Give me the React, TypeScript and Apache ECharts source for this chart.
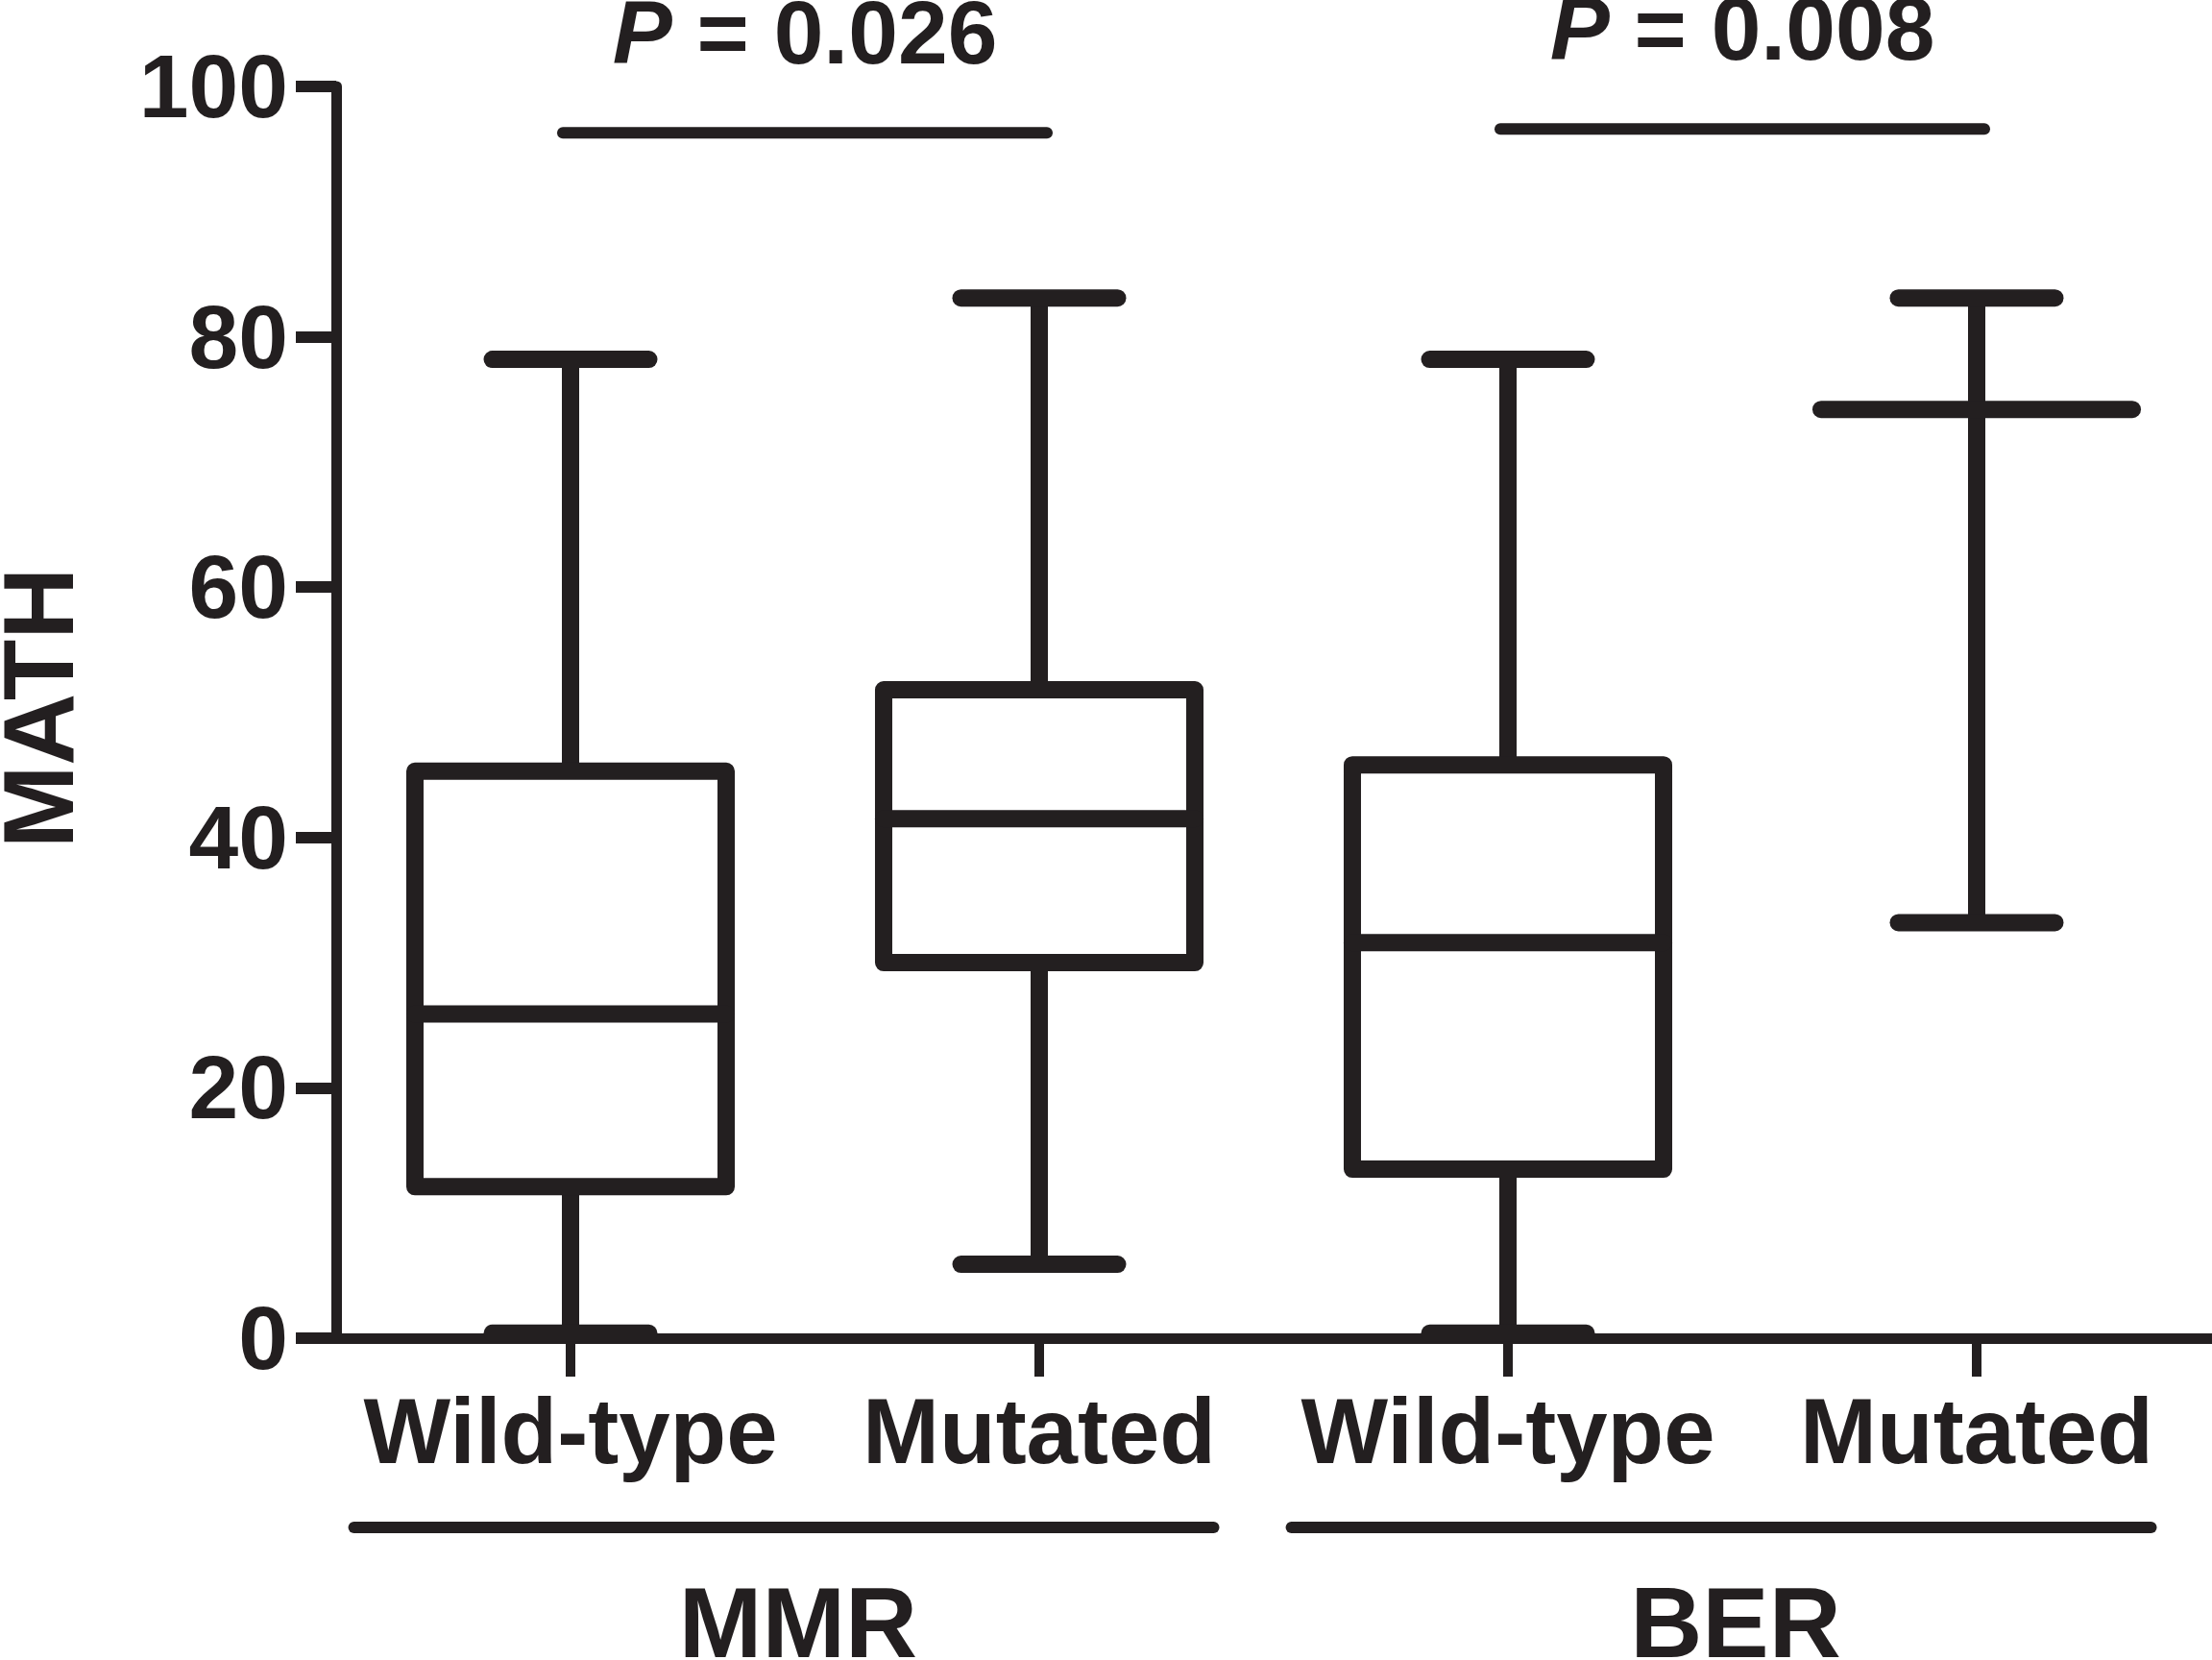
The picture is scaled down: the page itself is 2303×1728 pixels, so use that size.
import React, { useEffect, useRef } from "react";
import * as echarts from "echarts";

// ---------- data ----------
const categories = ["Wild-type", "Mutated", "Wild-type", "Mutated"];
const whiskerMin = [0.4, 5.9, 0.4, 33.2];
const q1 = [12.1, 30.0, 13.5, 74.2];
const median = [25.9, 41.5, 31.6, 74.2];
const q3 = [45.3, 51.8, 45.8, 74.2];
const whiskerMax = [78.2, 83.1, 78.2, 83.1];

const groupNames = ["MMR", "BER"];
const groupFirst = [0, 2];
const groupLast = [1, 3];
const pValues = ["0.026", "0.008"];
const sigHeights = [96.3, 96.6];

const yMin = 0;
const yMax = 100;
const yInterval = 20;
const yTitle = "MATH";

// ---------- style ----------
const INK = "#231f20";
const FONT = "'Liberation Sans', Arial, Helvetica, sans-serif";

export default function App() {
  const ref = useRef<HTMLDivElement>(null);

  useEffect(() => {
    if (!ref.current) return;
    const chart = echarts.init(ref.current, undefined, { renderer: "svg" });

    const boxData = categories.map((_, i) => [
      i,
      whiskerMin[i],
      q1[i],
      median[i],
      q3[i],
      whiskerMax[i],
    ]);
    const annData = groupNames.map((_, g) => [groupFirst[g], groupLast[g], sigHeights[g]]);

    const option: any = {
      animation: false,
      backgroundColor: "#ffffff",
      grid: { left: 350, right: 1, top: 90, bottom: 335, containLabel: false },
      xAxis: {
        type: "category",
        data: categories,
        boundaryGap: true,
        axisLine: { show: true, lineStyle: { color: INK, width: 11 } },
        axisTick: { show: true, alignWithLabel: true, length: 40, lineStyle: { color: INK, width: 10 } },
        axisLabel: {
          interval: 0,
          color: INK,
          fontSize: 96,
          fontWeight: "bold",
          fontFamily: FONT,
          margin: 48,
        },
        splitLine: { show: false },
      },
      yAxis: {
        type: "value",
        min: yMin,
        max: yMax,
        interval: yInterval,
        axisLine: { show: true, lineStyle: { color: INK, width: 11 } },
        axisTick: { show: true, length: 42, lineStyle: { color: INK, width: 12 } },
        axisLabel: {
          color: INK,
          fontSize: 93,
          fontWeight: "bold",
          fontFamily: FONT,
          margin: 50,
        },
        splitLine: { show: false },
      },
      graphic: [
        {
          type: "text",
          x: 40,
          y: 737,
          rotation: Math.PI / 2,
          style: {
            text: yTitle,
            fill: INK,
            fontSize: 104,
            fontWeight: "bold",
            fontFamily: FONT,
            align: "center",
            verticalAlign: "middle",
          },
        },
      ],
      series: [
        {
          type: "custom",
          name: "box",
          data: boxData,
          encode: { x: 0, y: [1, 2, 3, 4, 5] },
          clip: false,
          renderItem: (params: any, api: any) => {
            const idx = api.value(0);
            const bw = api.size([1, 0])[0];
            const boxHalf = bw * 0.332;
            const capHalf = bw * 0.167;
            const pMin = api.coord([idx, api.value(1)]);
            const pQ1 = api.coord([idx, api.value(2)]);
            const pMed = api.coord([idx, api.value(3)]);
            const pQ3 = api.coord([idx, api.value(4)]);
            const pMax = api.coord([idx, api.value(5)]);
            const x = pMed[0];
            const lw = 18;
            const children: any[] = [
              {
                type: "line",
                shape: { x1: x, y1: pMax[1], x2: x, y2: pQ3[1] },
                style: { stroke: INK, lineWidth: lw, lineCap: "butt" },
              },
              {
                type: "line",
                shape: { x1: x, y1: pQ1[1], x2: x, y2: pMin[1] },
                style: { stroke: INK, lineWidth: lw, lineCap: "butt" },
              },
              {
                type: "line",
                shape: { x1: x - capHalf, y1: pMax[1], x2: x + capHalf, y2: pMax[1] },
                style: { stroke: INK, lineWidth: lw, lineCap: "round" },
              },
              {
                type: "line",
                shape: { x1: x - capHalf, y1: pMin[1], x2: x + capHalf, y2: pMin[1] },
                style: { stroke: INK, lineWidth: lw, lineCap: "round" },
              },
            ];
            if (pQ1[1] - pQ3[1] > 1) {
              children.push({
                type: "polygon",
                shape: {
                  points: [
                    [x - boxHalf, pQ3[1]],
                    [x + boxHalf, pQ3[1]],
                    [x + boxHalf, pQ1[1]],
                    [x - boxHalf, pQ1[1]],
                  ],
                },
                style: { stroke: INK, lineWidth: lw, fill: "none", lineJoin: "round" },
              });
            }
            children.push({
              type: "line",
              shape: { x1: x - boxHalf, y1: pMed[1], x2: x + boxHalf, y2: pMed[1] },
              style: { stroke: INK, lineWidth: lw, lineCap: "round" },
            });
            return { type: "group", children };
          },
          z: 5,
        },
        {
          type: "custom",
          name: "annotations",
          data: annData,
          encode: { x: [0, 1], y: 2 },
          clip: false,
          renderItem: (params: any, api: any) => {
            const g = params.dataIndex;
            const a = api.coord([api.value(0), api.value(2)]);
            const b = api.coord([api.value(1), api.value(2)]);
            const base = api.coord([api.value(0), 0]);
            const bw = api.size([1, 0])[0];
            const midX = (a[0] + b[0]) / 2;
            return {
              type: "group",
              children: [
                {
                  type: "line",
                  shape: { x1: a[0] - 8, y1: a[1], x2: b[0] + 8, y2: b[1] },
                  style: { stroke: INK, lineWidth: 12, lineCap: "round" },
                },
                {
                  type: "text",
                  style: {
                    text: "{i|P} = " + pValues[g],
                    x: midX,
                    y: a[1] - 104,
                    align: "center",
                    verticalAlign: "middle",
                    fill: INK,
                    fontSize: 93,
                    fontWeight: "bold",
                    fontFamily: FONT,
                    rich: {
                      i: {
                        fontStyle: "italic",
                        fontWeight: "bold",
                        fontSize: 93,
                        fontFamily: FONT,
                        fill: INK,
                      },
                    },
                  },
                },
                {
                  type: "line",
                  shape: {
                    x1: a[0] - 0.462 * bw,
                    y1: base[1] + 197,
                    x2: b[0] + 0.372 * bw,
                    y2: base[1] + 197,
                  },
                  style: { stroke: INK, lineWidth: 12, lineCap: "round" },
                },
                {
                  type: "text",
                  style: {
                    text: groupNames[g],
                    x: midX - 7,
                    y: base[1] + 296,
                    align: "center",
                    verticalAlign: "middle",
                    fill: INK,
                    fontSize: 104,
                    fontWeight: "bold",
                    fontFamily: FONT,
                  },
                },
              ],
            };
          },
          z: 6,
        },
      ],
    };

    chart.setOption(option);
    return () => chart.dispose();
  }, []);

  return (
    <div
      ref={ref}
      style={{ position: "absolute", left: 0, top: 0, width: 2303, height: 1728 }}
    />
  );
}
